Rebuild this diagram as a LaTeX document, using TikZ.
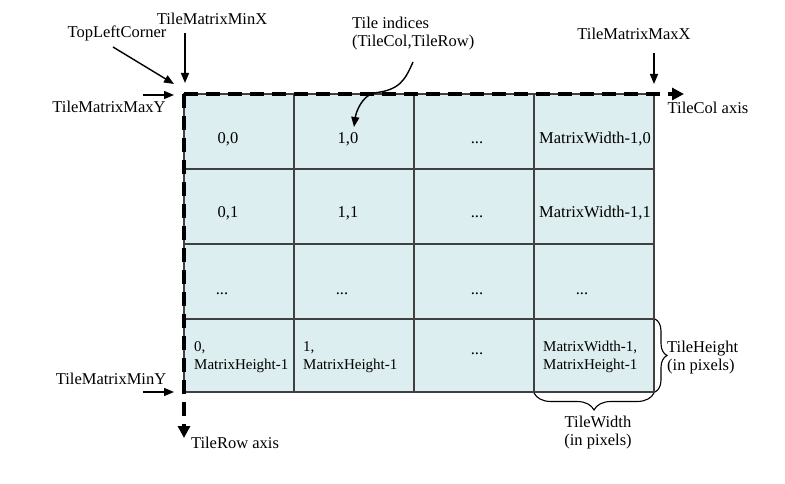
\documentclass[tikz,border=0pt]{standalone}
\usepackage{fontspec}
\setmainfont{Liberation Serif}
\usetikzlibrary{arrows.meta,decorations.pathreplacing}
\definecolor{cellfill}{RGB}{221,238,240}
\definecolor{gridline}{RGB}{64,64,64}
\tikzset{
  lbl/.style={inner sep=0pt,font=\fontsize{16.5}{18}\selectfont},
  cell/.style={inner sep=0pt,anchor=base,font=\fontsize{16.5}{18}\selectfont},
  cellsm/.style={inner sep=0pt,align=left,font=\fontsize{15}{17.5}\selectfont},
  ptr/.style={line width=1.4pt,-{Triangle[length=10pt,width=8pt]}},
  axis/.style={line width=3.6pt,dash pattern=on 14pt off 8pt,-{Triangle[length=12pt,width=12pt]}},
  brc/.style={line width=1.1pt,decorate}
}
\begin{document}
\begin{tikzpicture}[x=1pt,y=-1pt]
\useasboundingbox (0,0) rectangle (785,484);
% grid
\fill[cellfill] (184,94) rectangle (654,392);
\foreach \x in {294,414,534}{\draw[gridline,line width=1.4pt] (\x,94) -- (\x,392);}
\foreach \y in {169,244,319}{\draw[gridline,line width=1.4pt] (184,\y) -- (654,\y);}
\draw[gridline,line width=1.4pt] (184,94) rectangle (654,392);
% cells
\node[cell] (c00) at (228,144) {0,0};
\node[cell] (c10) at (348,144) {1,0};
\node[cell] (c20) at (477,144) {...};
\node[cell] (c30) at (595,144) {MatrixWidth-1,0};
\node[cell] (c01) at (228,218) {0,1};
\node[cell] (c11) at (348,218) {1,1};
\node[cell] (c21) at (477,218) {...};
\node[cell] (c31) at (595,218) {MatrixWidth-1,1};
\node[cell] (c02) at (222,294) {...};
\node[cell] (c12) at (342,294) {...};
\node[cell] (c22) at (477,294) {...};
\node[cell] (c32) at (582,294) {...};
\node[cellsm,anchor=west] (c03) at (194,357) {0,\\MatrixHeight-1};
\node[cellsm,anchor=west] (c13) at (303,357) {1,\\MatrixHeight-1};
\node[cell] (c23) at (477,354) {...};
\node[cellsm,anchor=west] (c33) at (543,357) {MatrixWidth-1,\\MatrixHeight-1};
% axes
\coordinate (origin) at (184,94);
\coordinate (colend) at (684,94);
\coordinate (rowend) at (184,438);
\draw[axis] (origin) -- (colend);
\draw[axis] (origin) -- (rowend);
% labels
\node[lbl] (tlc) at (117,33) {TopLeftCorner};
\node[lbl] (minx) at (212,19) {TileMatrixMinX};
\node[lbl] (maxy) at (109,107) {TileMatrixMaxY};
\node[lbl] (miny) at (111,379) {TileMatrixMinY};
\node[lbl] (maxx) at (634,34) {TileMatrixMaxX};
\node[lbl] (colax) at (708,108) {TileCol axis};
\node[lbl] (rowax) at (235,443) {TileRow axis};
\node[lbl,align=left,anchor=north west] (idx) at (352,17) {Tile indices\\(TileCol,TileRow)};
\node[lbl,align=left,anchor=west] (th) at (667,358) {TileHeight\\(in pixels)};
\node[lbl,align=center] (tw) at (598,433) {TileWidth\\(in pixels)};
% pointer arrows
\coordinate (tlcS) at (113,47);
\coordinate (tlcE) at (174,84);
\coordinate (minxS) at (185,33);
\coordinate (minxE) at (185,83);
\coordinate (maxyS) at (143,95);
\coordinate (maxyE) at (174,95);
\coordinate (maxxS) at (654,53);
\coordinate (maxxE) at (654,84);
\coordinate (minyS) at (143,392);
\coordinate (minyE) at (174,392);
\coordinate (idxS) at (413,62);
\coordinate (idxE) at (354,127);
\draw[ptr] (tlcS) -- (tlcE);
\draw[ptr] (minxS) -- (minxE);
\draw[ptr] (maxyS) -- (maxyE);
\draw[ptr] (maxxS) -- (maxxE);
\draw[ptr] (minyS) -- (minyE);
\draw[ptr] (idxS) .. controls (405,80) and (400,90) .. (374,93) .. controls (362,96) and (356,112) .. (idxE);
% braces
\draw[brc,decoration={brace,amplitude=12pt}] (655,319) -- (655,392);
\draw[brc,decoration={brace,amplitude=17pt}] (654,393) -- (534,393);
\end{tikzpicture}
\end{document}
